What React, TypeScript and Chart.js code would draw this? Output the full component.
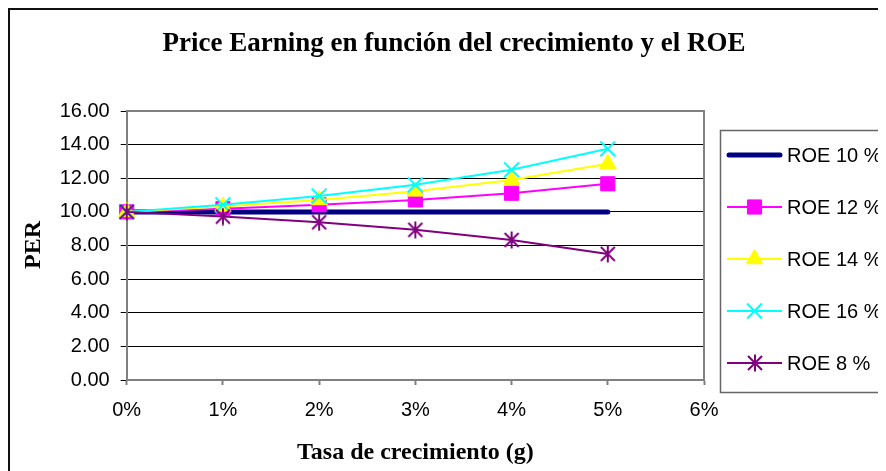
import React, { useEffect, useRef } from "react";
import { Chart, registerables } from "chart.js";

Chart.register(...registerables);

const growth = [0, 1, 2, 3, 4, 5];
const xTickLabels = ["0%", "1%", "2%", "3%", "4%", "5%", "6%"];
const seriesLabels = ["ROE 10 %", "ROE 12 %", "ROE 14 %", "ROE 16 %", "ROE 8 %"];
const roe10 = [10, 10, 10, 10, 10, 10];
const roe12 = [10, 10.19, 10.42, 10.71, 11.11, 11.67];
const roe14 = [10, 10.32, 10.71, 11.22, 11.9, 12.86];
const roe16 = [10, 10.42, 10.94, 11.61, 12.5, 13.75];
const roe8 = [10, 9.72, 9.38, 8.93, 8.33, 7.5];
const titleText = "Price Earning en función del crecimiento y el ROE";
const xTitle = "Tasa de crecimiento (g)";
const yTitle = "PER";

const NAVY = "#000080";
const MAGENTA = "#FF00FF";
const YELLOW = "#FFFF00";
const CYAN = "#00FFFF";
const PURPLE = "#800080";

const SANS = '"Liberation Sans", Arial, sans-serif';
const SERIF = '"Liberation Serif", "Times New Roman", serif';

function makeAsterisk(color: string) {
  const c = document.createElement("canvas");
  c.width = 18;
  c.height = 18;
  const g = c.getContext("2d")!;
  g.strokeStyle = color;
  g.lineWidth = 2;
  g.beginPath();
  g.moveTo(9, 0.5);
  g.lineTo(9, 17.5);
  g.moveTo(2, 2);
  g.lineTo(16, 16);
  g.moveTo(16, 2);
  g.lineTo(2, 16);
  g.stroke();
  return c;
}

function drawMarker(ctx: CanvasRenderingContext2D, style: any, x: number, y: number, r: number, color: string, bw: number) {
  ctx.save();
  ctx.fillStyle = color;
  ctx.strokeStyle = color;
  ctx.lineWidth = bw;
  if (style instanceof HTMLCanvasElement) {
    ctx.drawImage(style, Math.round(x - style.width / 2), Math.round(y - style.height / 2));
    ctx.restore();
    return;
  }
  ctx.beginPath();
  if (style === "rect") {
    const s = Math.SQRT1_2 * r;
    ctx.rect(x - s, y - s, 2 * s, 2 * s);
    ctx.fill();
    ctx.stroke();
  } else if (style === "triangle") {
    let rad = 0;
    ctx.moveTo(x + Math.sin(rad) * r, y - Math.cos(rad) * r);
    rad += (2 * Math.PI) / 3;
    ctx.lineTo(x + Math.sin(rad) * r, y - Math.cos(rad) * r);
    rad += (2 * Math.PI) / 3;
    ctx.lineTo(x + Math.sin(rad) * r, y - Math.cos(rad) * r);
    ctx.closePath();
    ctx.fill();
    ctx.stroke();
  } else if (style === "crossRot") {
    const o = Math.SQRT1_2 * r;
    ctx.moveTo(x - o, y - o);
    ctx.lineTo(x + o, y + o);
    ctx.moveTo(x + o, y - o);
    ctx.lineTo(x - o, y + o);
    ctx.stroke();
  }
  ctx.restore();
}

export default function App() {
  const ref = useRef<HTMLCanvasElement | null>(null);

  useEffect(() => {
    const canvas = ref.current!;
    const star = makeAsterisk(PURPLE);
    const pts = (vals: number[]) => growth.map((g, i) => ({ x: g, y: vals[i] }));

    const datasets: any[] = [
      { label: seriesLabels[0], data: pts(roe10), borderColor: NAVY, backgroundColor: NAVY, borderWidth: 5, borderCapStyle: "round", pointRadius: 0, pointStyle: false, order: 5 },
      { label: seriesLabels[1], data: pts(roe12), borderColor: MAGENTA, backgroundColor: MAGENTA, borderWidth: 2, pointStyle: "rect", pointRadius: 10, pointBorderWidth: 1, order: 4 },
      { label: seriesLabels[2], data: pts(roe14), borderColor: YELLOW, backgroundColor: YELLOW, borderWidth: 2, pointStyle: "triangle", pointRadius: 9.5, pointBorderWidth: 1, order: 3 },
      { label: seriesLabels[3], data: pts(roe16), borderColor: CYAN, backgroundColor: CYAN, borderWidth: 2, pointStyle: "crossRot", pointRadius: 10.5, pointBorderWidth: 2, order: 2 },
      { label: seriesLabels[4], data: pts(roe8), borderColor: PURPLE, backgroundColor: PURPLE, borderWidth: 2, pointStyle: star, pointRadius: 9, pointBorderWidth: 2, order: 1 },
    ];
    datasets.forEach((d) => {
      d.tension = 0;
      d.clip = false;
      d.fill = false;
    });

    const decor = {
      id: "decor",
      beforeDatasetsDraw(chart: any) {
        const { ctx, chartArea: a } = chart;
        ctx.save();
        ctx.strokeStyle = "#808080";
        ctx.lineWidth = 2;
        ctx.beginPath();
        ctx.moveTo(a.left, a.top);
        ctx.lineTo(a.right, a.top);
        ctx.lineTo(a.right, a.bottom);
        ctx.stroke();
        ctx.restore();
      },
      afterDraw(chart: any) {
        const { ctx, chartArea: a } = chart;
        ctx.save();
        // outer frame (top & left visible)
        ctx.strokeStyle = "#111";
        ctx.lineWidth = 2;
        ctx.beginPath();
        ctx.moveTo(1, chart.height);
        ctx.lineTo(1, 1);
        ctx.lineTo(chart.width, 1);
        ctx.stroke();

        // title
        ctx.fillStyle = "#000";
        ctx.font = `bold 27px ${SERIF}`;
        ctx.textAlign = "center";
        ctx.textBaseline = "alphabetic";
        ctx.fillText(titleText, 446, 43);

        // x title
        ctx.font = `bold 24px ${SERIF}`;
        ctx.fillText(xTitle, (a.left + a.right) / 2, 451);

        // y title
        ctx.save();
        ctx.translate(32, 237);
        ctx.rotate(-Math.PI / 2);
        ctx.fillText(yTitle, 0, 0);
        ctx.restore();

        // legend
        ctx.strokeStyle = "#666";
        ctx.lineWidth = 1.5;
        ctx.strokeRect(712.5, 122.5, 220, 262);
        chart.data.datasets.forEach((d: any, i: number) => {
          const y = 147 + i * 52;
          ctx.save();
          ctx.strokeStyle = d.borderColor;
          ctx.lineWidth = d.borderWidth;
          ctx.lineCap = i === 0 ? "round" : "butt";
          ctx.beginPath();
          ctx.moveTo(i === 0 ? 721 : 719, y);
          ctx.lineTo(i === 0 ? 772 : 774, y);
          ctx.stroke();
          ctx.restore();
          if (d.pointStyle) drawMarker(ctx, d.pointStyle, 746.5, y, d.pointRadius, d.borderColor, d.pointBorderWidth);
          ctx.fillStyle = "#000";
          ctx.font = `20px ${SANS}`;
          ctx.textAlign = "left";
          ctx.textBaseline = "middle";
          ctx.fillText(d.label, 779, y + 1);
        });
        ctx.restore();
      },
    };

    const chart = new Chart(canvas, {
      type: "line",
      data: { datasets },
      plugins: [decor],
      options: {
        animation: false,
        responsive: false,
        devicePixelRatio: 1,
        layout: { padding: { left: 0, top: 103, right: 182, bottom: 51 } },
        plugins: { legend: { display: false }, title: { display: false }, tooltip: { enabled: false } },
        events: [],
        scales: {
          x: {
            type: "linear",
            min: 0,
            max: 6,
            afterFit: (s: any) => { s.height = 40; },
            ticks: {
              stepSize: 1,
              autoSkip: false,
              maxRotation: 0,
              color: "#000",
              font: { family: SANS, size: 20 },
              padding: 13,
              callback: (v: any) => xTickLabels[Math.round(v)] ?? "",
            },
            grid: { drawOnChartArea: false, drawTicks: true, tickLength: 5, tickColor: "#808080", tickWidth: 2 },
            border: { display: true, color: "#808080", width: 2 },
          },
          y: {
            min: 0,
            max: 16,
            afterFit: (s: any) => { s.width = 118.7; },
            ticks: {
              stepSize: 2,
              color: "#000",
              font: { family: SANS, size: 20 },
              padding: 11,
              callback: (v: any) => Number(v).toFixed(2),
            },
            grid: { color: "#000", lineWidth: 1, drawTicks: true, tickLength: 6, tickColor: "#000" },
            border: { display: true, color: "#808080", width: 2 },
          },
        },
      } as any,
    });
    return () => chart.destroy();
  }, []);

  return <canvas ref={ref} width={878} height={463} style={{ display: "block", width: 878, height: 463 }} />;
}
